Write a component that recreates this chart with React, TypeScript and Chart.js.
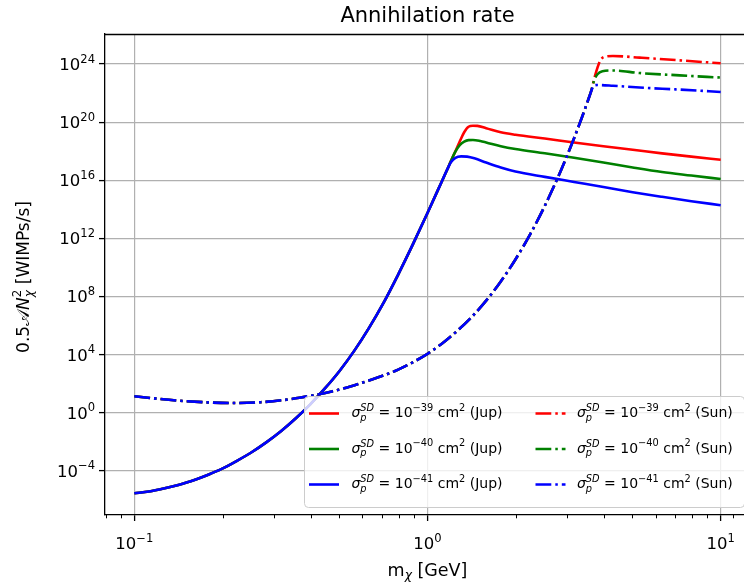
import React, { useEffect, useRef } from 'react';
import { Chart, registerables } from 'chart.js';

Chart.register(...registerables);

// ---------- data ----------
// Jupiter: the three cross sections share the same rising branch
const jupCommonMass = [0.1, 0.1122, 0.1259, 0.1413, 0.1585, 0.1778, 0.1995, 0.2239, 0.2512, 0.2818, 0.3162, 0.3548, 0.3981, 0.4467, 0.5012, 0.5623, 0.631, 0.7079, 0.7943, 0.8913, 1.0, 1.122, 1.17];
const jupCommonRate = [2.8e-6, 3.7e-6, 5.9e-6, 1.05e-5, 2.1e-5, 5.1e-5, 1.38e-4, 4.8e-4, 1.86e-3, 8.9e-3, 5.2e-2, 0.39, 3.7, 46, 740, 1.78e4, 6.6e5, 3.6e7, 3.2e9, 3.8e11, 5.6e13, 9.3e15, 6.0e16];

const jupRedMass = [1.202, 1.245, 1.288, 1.334, 1.380, 1.429, 1.479, 1.585, 1.778, 1.995, 2.512, 3.162, 3.981, 5.012, 6.310, 7.943, 10];
const jupRedRate = [2.1e17, 9.8e17, 4.6e18, 2.0e19, 4.8e19, 5.6e19, 5.5e19, 3.8e19, 2.0e19, 1.35e19, 7.4e18, 4.0e18, 2.2e18, 1.26e18, 7.1e17, 4.2e17, 2.6e17];

const jupGreenMass = [1.202, 1.245, 1.288, 1.334, 1.380, 1.429, 1.514, 1.585, 1.778, 1.995, 2.512, 3.162, 3.981, 5.012, 6.310, 7.943, 10];
const jupGreenRate = [2.1e17, 9.3e17, 2.6e18, 4.6e18, 5.8e18, 5.9e18, 5.0e18, 4.0e18, 2.2e18, 1.4e18, 7.1e17, 3.5e17, 1.66e17, 7.6e16, 3.7e16, 2.1e16, 1.2e16];

const jupBlueMass = [1.202, 1.245, 1.303, 1.365, 1.445, 1.585, 1.778, 1.995, 2.512, 3.162, 3.981, 5.012, 6.310, 7.943, 10];
const jupBlueRate = [1.74e17, 3.5e17, 4.4e17, 4.2e17, 3.2e17, 1.66e17, 7.6e16, 4.0e16, 1.7e16, 7.6e15, 3.4e15, 1.5e15, 7.2e14, 3.6e14, 1.9e14];

// Sun: shared rising branch
const sunCommonMass = [0.1, 0.1462, 0.2163, 0.2698, 0.3206, 0.3656, 0.4753, 0.542, 0.631, 0.7943, 1.0, 1.122, 1.259, 1.413, 1.585, 1.778, 1.995, 2.239, 2.512, 2.818, 2.985, 3.162, 3.35, 3.548];
const sunCommonRate = [13.2, 6.3, 4.6, 5.2, 7.2, 10.5, 30, 60, 162, 910, 1.12e4, 5.8e4, 4.0e5, 3.7e6, 5.1e7, 1.07e9, 3.5e10, 1.86e12, 1.7e14, 2.7e16, 4.3e17, 7.8e18, 1.7e20, 4.4e21];

const sunRedMass = [3.62, 3.7, 3.8, 3.9, 4.05, 4.29, 5.29, 7.25, 10];
const sunRedRate = [1.5e22, 8.9e22, 5.6e23, 2.0e24, 3.3e24, 3.6e24, 2.75e24, 1.8e24, 1.12e24];

const sunGreenMass = [3.62, 3.7, 3.8, 3.95, 4.29, 5.29, 7.25, 10];
const sunGreenRate = [1.45e22, 7.1e22, 2.0e23, 3.2e23, 3.6e23, 2.4e23, 1.66e23, 1.17e23];

const sunBlueMass = [3.62, 3.68, 3.8, 4.29, 5.29, 7.25, 10];
const sunBlueRate = [1.4e22, 3.1e22, 3.6e22, 3.2e22, 2.4e22, 1.74e22, 1.2e22];

// ticks
const xMajorTicks = [0.1, 1, 10];
const xMajorExp = ['−1', '0', '1'];
const xMinorTicks = [0.08, 0.09, 0.2, 0.3, 0.4, 0.5, 0.6, 0.7, 0.8, 0.9, 2, 3, 4, 5, 6, 7, 8, 9, 11, 12];
const yMajorTicks = [1e-4, 1e0, 1e4, 1e8, 1e12, 1e16, 1e20, 1e24];
const yMajorExp = ['−4', '0', '4', '8', '12', '16', '20', '24'];

const legendExp = ['−39', '−40', '−41'];
const seriesColors = ['#ff0000', '#008000', '#0000ff'];

const X_MIN = 0.07943;
const X_MAX = 12.59;
const Y_MIN = 8.9e-8;
const Y_MAX = 1.17e26;

// ---------- rich text helper ----------
const FONT = '"DejaVu Sans", sans-serif';
type Part = { t?: string; it?: boolean; s?: number; dy?: number; stack?: Part[] };

function pf(p: Part, size: number) {
  return `${p.it ? 'italic ' : ''}${(size * (p.s ?? 1)).toFixed(2)}px ${FONT}`;
}
function measureParts(ctx: CanvasRenderingContext2D, parts: Part[], size: number) {
  let w = 0;
  for (const p of parts) {
    const items = p.stack ?? [p];
    let adv = 0;
    for (const q of items) {
      ctx.font = pf(q, size);
      adv = Math.max(adv, ctx.measureText(q.t ?? '').width);
    }
    w += adv;
  }
  return w;
}
function drawParts(ctx: CanvasRenderingContext2D, parts: Part[], x: number, y: number, size: number, align: 'left' | 'center' | 'right' = 'left') {
  const w = measureParts(ctx, parts, size);
  let cx = align === 'left' ? x : align === 'center' ? x - w / 2 : x - w;
  ctx.textAlign = 'left';
  ctx.textBaseline = 'alphabetic';
  for (const p of parts) {
    const items = p.stack ?? [p];
    let adv = 0;
    for (const q of items) {
      ctx.font = pf(q, size);
      ctx.fillText(q.t ?? '', cx, y - (q.dy ?? 0) * size);
      adv = Math.max(adv, ctx.measureText(q.t ?? '').width);
    }
    cx += adv;
  }
}
const pow10 = (e: string): Part[] => [{ t: '10' }, { t: e, s: 0.7, dy: 0.45 }];

const TICK_FONT = 16.5;
const LABEL_FONT = 17.5;
const LEG_FONT = 14;

const decorPlugin = {
  id: 'decor',
  afterDraw(chart: any) {
    const ctx: CanvasRenderingContext2D = chart.ctx;
    const { left, right, top, bottom } = chart.chartArea;
    const xs = chart.scales.x;
    const ys = chart.scales.y;
    ctx.save();
    ctx.fillStyle = '#000';
    ctx.strokeStyle = '#000';

    // spines top/right
    ctx.lineWidth = 1.3;
    ctx.beginPath();
    ctx.moveTo(left, top + 0.5);
    ctx.lineTo(right, top + 0.5);
    ctx.moveTo(right, top);
    ctx.lineTo(right, bottom);
    ctx.stroke();

    // minor x ticks
    ctx.lineWidth = 1;
    ctx.beginPath();
    for (const v of xMinorTicks) {
      const px = Math.round(xs.getPixelForValue(v)) + 0.5;
      if (px < left - 0.5 || px > right + 0.5) continue;
      ctx.moveTo(px, bottom);
      ctx.lineTo(px, bottom + 3.3);
    }
    ctx.stroke();

    // tick labels
    xMajorTicks.forEach((v, i) => {
      const px = xs.getPixelForValue(v);
      drawParts(ctx, pow10(xMajorExp[i]), px, 549, TICK_FONT, 'center');
    });
    yMajorTicks.forEach((v, i) => {
      const py = ys.getPixelForValue(v);
      drawParts(ctx, pow10(yMajorExp[i]), 95, py + 6, TICK_FONT, 'right');
    });

    // title
    drawParts(ctx, [{ t: 'Annihilation rate' }], (left + right) / 2, 22, 21, 'center');

    // x label
    drawParts(ctx, [{ t: 'm' }, { t: 'χ', it: true, s: 0.7, dy: -0.22 }, { t: ' [GeV]' }], (left + right) / 2, 575.5, LABEL_FONT, 'center');

    // y label
    ctx.save();
    ctx.translate(29, 277);
    ctx.rotate(-Math.PI / 2);
    drawParts(ctx, [
      { t: '0.5' },
      { t: '𝒜' },
      { t: 'N', it: true },
      { stack: [{ t: '2', s: 0.7, dy: 0.45 }, { t: 'χ', it: true, s: 0.7, dy: -0.25 }] },
      { t: ' [WIMPs/s]' },
    ], 0, 0, 17, 'center');
    ctx.restore();

    // legend
    const lx = 304.5, ly = 396.5, lw = 440, lh = 111;
    ctx.beginPath();
    (ctx as any).roundRect(lx, ly, lw, lh, 4);
    ctx.fillStyle = 'rgba(255,255,255,0.8)';
    ctx.fill();
    ctx.strokeStyle = '#cccccc';
    ctx.lineWidth = 1;
    ctx.stroke();

    const rows = [413.5, 449, 484.5];
    const cols = [
      { hx: 309, tx: 351.5, label: 'Jup', dash: [] as number[] },
      { hx: 535.5, tx: 577, label: 'Sun', dash: [15.8, 4, 2.5, 4] },
    ];
    cols.forEach((c) => {
      rows.forEach((ry, i) => {
        ctx.save();
        ctx.strokeStyle = seriesColors[i];
        ctx.lineWidth = 2.6;
        ctx.setLineDash(c.dash);
        ctx.beginPath();
        ctx.moveTo(c.hx, ry);
        ctx.lineTo(c.hx + 30, ry);
        ctx.stroke();
        ctx.restore();
        ctx.fillStyle = '#000';
        drawParts(ctx, [
          { t: 'σ', it: true },
          { stack: [{ t: 'SD', it: true, s: 0.7, dy: 0.42 }, { t: 'p', it: true, s: 0.7, dy: -0.28 }] },
          { t: ' = 10' },
          { t: legendExp[i], s: 0.7, dy: 0.45 },
          { t: ' cm' },
          { t: '2', s: 0.7, dy: 0.45 },
          { t: ` (${c.label})` },
        ], c.tx, ry + 3.5, LEG_FONT, 'left');
      });
    });
    ctx.restore();
  },
};

function pts(mass: number[], rate: number[]) {
  return mass.map((m, i) => ({ x: m, y: rate[i] }));
}

export default function App() {
  const ref = useRef<HTMLCanvasElement | null>(null);
  useEffect(() => {
    if (!ref.current) return;
    const sunDash = [15.8, 4, 2.5, 4];
    const mk = (label: string, data: any[], color: string, dash: number[], order: number) => ({
      label, data, borderColor: color, backgroundColor: color, borderWidth: 2.6, borderDash: dash,
      pointRadius: 0, fill: false, order, cubicInterpolationMode: 'monotone' as const,
    });
    const chart = new Chart(ref.current, {
      type: 'line',
      data: {
        datasets: [
          mk('Jup 1e-39', [...pts(jupCommonMass, jupCommonRate), ...pts(jupRedMass, jupRedRate)], seriesColors[0], [], 5),
          mk('Jup 1e-40', [...pts(jupCommonMass, jupCommonRate), ...pts(jupGreenMass, jupGreenRate)], seriesColors[1], [], 4),
          mk('Jup 1e-41', [...pts(jupCommonMass, jupCommonRate), ...pts(jupBlueMass, jupBlueRate)], seriesColors[2], [], 3),
          mk('Sun 1e-39', [...pts(sunCommonMass, sunCommonRate), ...pts(sunRedMass, sunRedRate)], seriesColors[0], sunDash, 2),
          mk('Sun 1e-40', [...pts(sunCommonMass, sunCommonRate), ...pts(sunGreenMass, sunGreenRate)], seriesColors[1], sunDash, 1),
          mk('Sun 1e-41', [...pts(sunCommonMass, sunCommonRate), ...pts(sunBlueMass, sunBlueRate)], seriesColors[2], sunDash, 0),
        ],
      },
      options: {
        animation: false,
        responsive: false,
        devicePixelRatio: 1,
        layout: { padding: { left: 0, right: 10, top: 34, bottom: 0 } },
        plugins: { legend: { display: false }, title: { display: false }, tooltip: { enabled: false } },
        scales: {
          x: {
            type: 'logarithmic', min: X_MIN, max: X_MAX,
            afterBuildTicks: (s: any) => { s.ticks = xMajorTicks.map((v) => ({ value: v })); },
            afterFit: (s: any) => { s.height = 67; },
            ticks: { display: false },
            grid: { color: '#b0b0b0', lineWidth: 1.2, tickLength: 6, tickColor: '#000', tickWidth: 1.3, drawTicks: true },
            border: { color: '#000', width: 1.3 },
          },
          y: {
            type: 'logarithmic', min: Y_MIN, max: Y_MAX,
            afterBuildTicks: (s: any) => { s.ticks = yMajorTicks.map((v) => ({ value: v })); },
            afterFit: (s: any) => { s.width = 105; },
            ticks: { display: false },
            grid: { color: '#b0b0b0', lineWidth: 1.2, tickLength: 6, tickColor: '#000', tickWidth: 1.3, drawTicks: true },
            border: { color: '#000', width: 1.3 },
          },
        },
      } as any,
      plugins: [decorPlugin],
    });
    return () => chart.destroy();
  }, []);
  return (
    <div style={{ position: 'fixed', left: 0, top: 0, width: 744, height: 582, overflow: 'hidden', background: '#fff' }}>
      <canvas ref={ref} width={760} height={582} style={{ display: 'block' }} />
    </div>
  );
}
